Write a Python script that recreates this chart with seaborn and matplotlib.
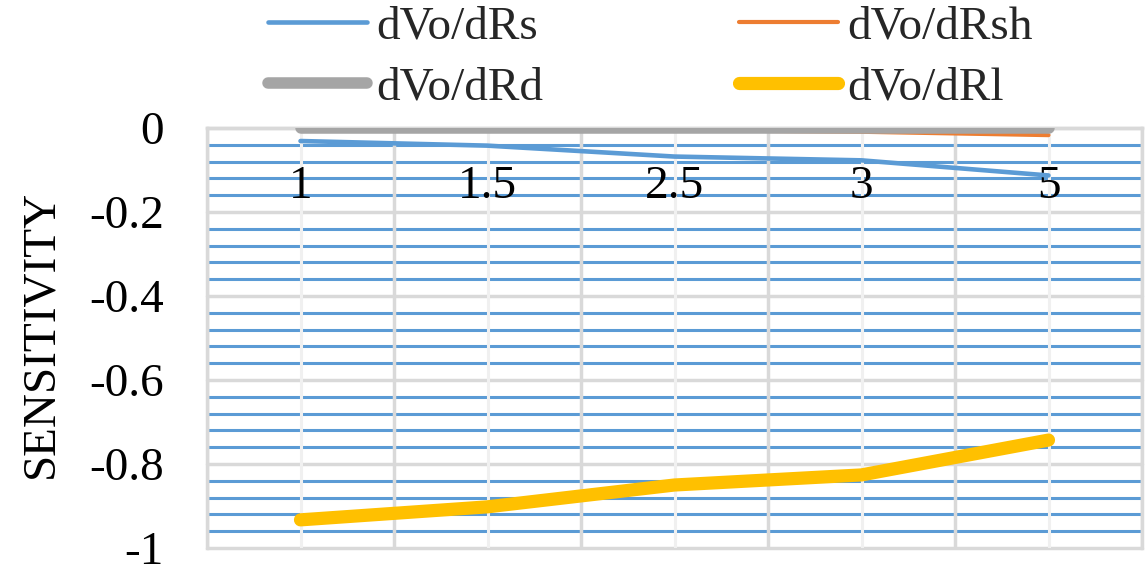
import matplotlib
matplotlib.use('Agg')
import matplotlib.pyplot as plt
import seaborn as sns
import numpy as np
from matplotlib.ticker import MultipleLocator, FixedLocator, FuncFormatter

# ---- data ----
categories = ['1', '1.5', '2.5', '3', '5']
series_names = ['dVo/dRs', 'dVo/dRsh', 'dVo/dRd', 'dVo/dRl']
d_rs = [-0.031, -0.042, -0.068, -0.077, -0.113]
d_rsh = [-0.002, -0.003, -0.005, -0.009, -0.017]
d_rd = [0.0, 0.0, 0.0, 0.0, 0.0]
d_rl = [-0.933, -0.902, -0.850, -0.826, -0.743]
series_values = [d_rs, d_rsh, d_rd, d_rl]

colors = ['#5B9BD5', '#ED7D31', '#A5A5A5', '#FFC000']
widths = [3.3, 3.0, 8.3, 9.5]

sns.set_theme(style='white')
plt.rcParams['font.family'] = ['Liberation Serif', 'DejaVu Serif']
plt.rcParams['axes.unicode_minus'] = False

W, H = 1147, 569
fig = plt.figure(figsize=(W / 100, H / 100), dpi=100)
ax = fig.add_axes([207 / W, 1 - 548 / H, 935 / W, 420 / H])

for name, vals, c, lw in zip(series_names, series_values, colors, widths):
    sns.lineplot(x=categories, y=vals, ax=ax, color=c, linewidth=lw,
                 label=name, sort=False, solid_capstyle='round', zorder=3)

handles, labels = ax.get_legend_handles_labels()
if ax.get_legend() is not None:
    ax.get_legend().remove()
order = [0, 2, 1, 3]
fig.legend([handles[i] for i in order], [labels[i] for i in order],
           ncol=2, loc='center', bbox_to_anchor=(0.567, 0.899),
           frameon=False, fontsize=34, handlelength=2.1, handletextpad=0.2,
           columnspacing=4.15, labelspacing=0.38, borderpad=0, borderaxespad=0)

n = len(categories)
ax.set_xlim(-0.5, n - 0.5)
ax.set_ylim(-1, 0)
ax.xaxis.set_minor_locator(FixedLocator(np.arange(n + 1) - 0.5))
ax.yaxis.set_major_locator(MultipleLocator(0.2))
ax.yaxis.set_minor_locator(MultipleLocator(0.04))
ax.yaxis.set_major_formatter(FuncFormatter(lambda v, p: '0' if abs(v) < 1e-9 else f'{v:g}'))

ax.grid(which='major', axis='x', color='#F0F0F0', lw=2.2)
ax.grid(which='minor', axis='x', color='#D9D9D9', lw=2.5)
ax.grid(which='major', axis='y', color='#D9D9D9', lw=2.5)
ax.grid(which='minor', axis='y', color='#5B9BD5', lw=2.2)
ax.set_axisbelow(True)
ax.xaxis.set_zorder(0.6)

ax.tick_params(which='both', length=0)
ax.tick_params(axis='x', pad=27, labelsize=34, colors='black')
ax.tick_params(axis='y', pad=31, labelsize=34, colors='black')

ax.spines['bottom'].set_position(('data', 0))
for s in ['bottom', 'left', 'right']:
    ax.spines[s].set_color('#D9D9D9')
    ax.spines[s].set_linewidth(2.5)
ax.spines['top'].set_visible(False)

for t in ax.yaxis.get_major_ticks():
    t.gridline.set_clip_on(False)

ax.set_xlabel('')
ax.set_ylabel('SENSITIVITY', fontsize=34, color='black')
ax.yaxis.set_label_coords(-0.155, 0.51)

fig.savefig('out.png', dpi=100)
